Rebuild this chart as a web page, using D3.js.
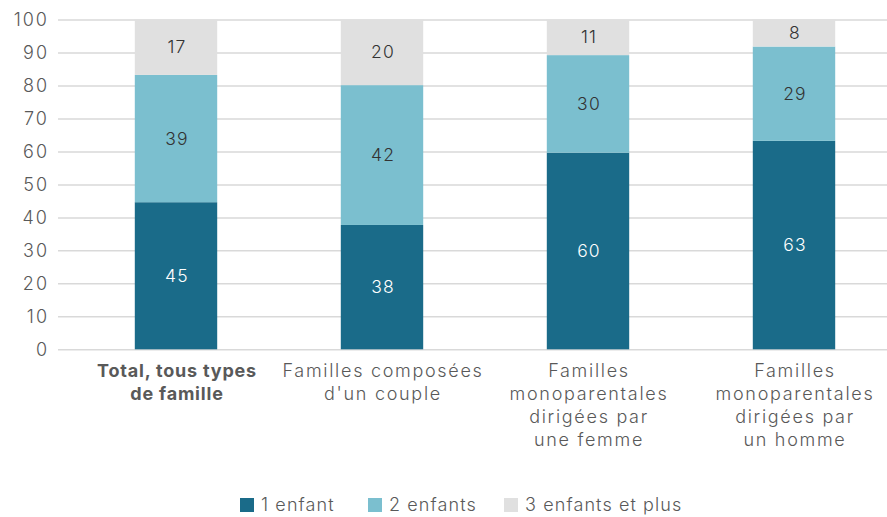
<!DOCTYPE html>
<html>
<head>
<meta charset="utf-8">
<script src="https://cdn.jsdelivr.net/npm/d3@7"></script>
<style>
  body { margin: 0; background: #fff; }
  svg { display: block; font-family: Inter, sans-serif; }
</style>
</head>
<body>
<div id="app"></div>
<script>
const categories = [
  ['Total, tous types', 'de famille'],
  ['Familles composées', "d'un couple"],
  ['Familles', 'monoparentales', 'dirigées par', 'une femme'],
  ['Familles', 'monoparentales', 'dirigées par', 'un homme']
];
const oneChild = [44.6, 37.7, 59.6, 63.2];
const twoChildren = [38.6, 42.4, 29.6, 28.6];
const threePlus = [16.8, 19.9, 10.8, 8.2];
const seriesNames = ['1 enfant', '2 enfants', '3 enfants et plus'];
const colors = ['#1a6b89', '#7bbfcf', '#e0e0e0'];
const labelColors = ['#ffffff', '#333333', '#333333'];
const yTicks = [0, 10, 20, 30, 40, 50, 60, 70, 80, 90, 100];

const width = 887;
const height = 517;
const plotLeft = 58;
const plotRight = 887;
const plotTop = 19.5;
const plotBottom = 349.3;

const keys = ['s0', 's1', 's2'];
const rows = categories.map((c, i) => ({
  i, c, s0: oneChild[i], s1: twoChildren[i], s2: threePlus[i]
}));

const series = d3.stack().keys(keys)(rows);

const x = d3.scaleBand()
  .domain(d3.range(categories.length))
  .range([73, 897])
  .paddingInner(0.6)
  .paddingOuter(0.3);

const y = d3.scaleLinear()
  .domain([0, 100])
  .range([plotBottom, plotTop]);

const svg = d3.select('#app').append('svg')
  .attr('width', width)
  .attr('height', height);

// grid + y axis
const yAxis = d3.axisLeft(y)
  .tickValues(yTicks)
  .tickSize(-(plotRight - plotLeft))
  .tickPadding(9);

const gy = svg.append('g')
  .attr('transform', `translate(${plotLeft},0)`)
  .call(yAxis);
gy.select('.domain').remove();
gy.selectAll('line').attr('stroke', '#d9d9d9').attr('stroke-width', 1.5);
gy.selectAll('text')
  .attr('fill', '#595959')
  .attr('font-family', 'Inter, sans-serif')
  .style('font-size', '18px')
  .style('letter-spacing', '2px')
  .style('font-weight', 300);

// bars
const layers = svg.append('g')
  .selectAll('g')
  .data(series)
  .enter()
    .append('g')
    .attr('fill', (d, k) => colors[k]);

layers.selectAll('rect')
  .data(d => d)
  .enter()
    .append('rect')
    .attr('x', d => x(d.data.i))
    .attr('y', d => y(d[1]))
    .attr('width', x.bandwidth())
    .attr('height', d => y(d[0]) - y(d[1]));

// value labels
layers.each(function (layer, k) {
  d3.select(this).selectAll('text')
    .data(layer)
    .enter()
      .append('text')
      .attr('x', d => x(d.data.i) + x.bandwidth() / 2 + 1)
      .attr('y', d => (y(d[0]) + y(d[1])) / 2)
      .attr('dy', '0.35em')
      .attr('text-anchor', 'middle')
      .attr('fill', labelColors[k])
      .style('font-size', '17.5px')
      .style('letter-spacing', '1.2px')
      .style('font-weight', 300)
      .text(d => Math.round(d.data[keys[k]]));
});

// category labels
const cat = svg.append('g')
  .selectAll('text')
  .data(rows)
  .enter()
    .append('text')
    .attr('x', d => x(d.i) + x.bandwidth() / 2 + 1)
    .attr('y', 377)
    .attr('text-anchor', 'middle')
    .attr('fill', '#595959')
    .style('font-size', '18px')
    .style('letter-spacing', d => d.i === 0 ? '0.8px' : '1.7px')
    .style('font-weight', d => d.i === 0 ? 700 : 300);

cat.selectAll('tspan')
  .data(d => d.c)
  .enter()
    .append('tspan')
    .attr('x', function () { return d3.select(this.parentNode).attr('x'); })
    .attr('dy', (d, j) => j === 0 ? 0 : 23)
    .text(d => d);

// legend
const legendX = [240, 368, 504];
const legend = svg.append('g')
  .selectAll('g')
  .data(seriesNames)
  .enter()
    .append('g')
    .attr('transform', (d, k) => `translate(${legendX[k]},498)`);

legend.append('rect')
  .attr('width', 14)
  .attr('height', 14)
  .attr('fill', (d, k) => colors[k]);

legend.append('text')
  .attr('x', 21)
  .attr('y', 7)
  .attr('dy', '0.35em')
  .attr('fill', '#595959')
  .style('font-size', '18px')
  .style('letter-spacing', '1.1px')
  .style('font-weight', 300)
  .text(d => d);
</script>
</body>
</html>
